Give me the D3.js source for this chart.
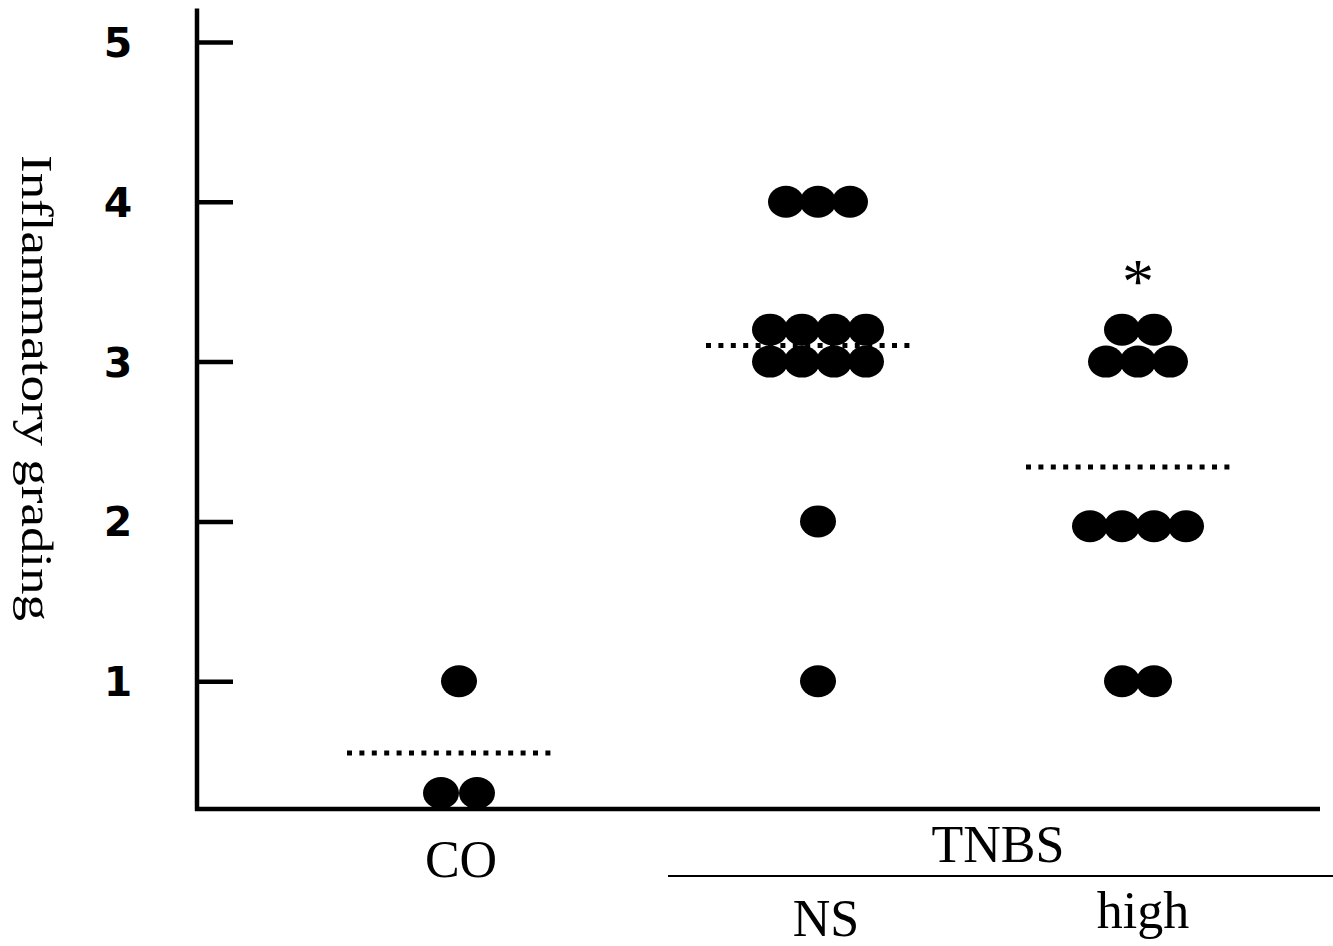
<!DOCTYPE html>
<html>
<head>
<meta charset="utf-8">
<script src="https://cdn.jsdelivr.net/npm/d3@7"></script>
<style>
  body { margin: 0; background: #fff; }
  svg { display: block; }
</style>
</head>
<body>
<svg width="1333" height="946"><g id="vis"></g></svg>
<script>
// data
const groups = ['CO', 'NS', 'high']
const coValues = [1, 0.3, 0.3]
const nsValues = [4, 4, 4, 3.2, 3.2, 3.2, 3.2, 3, 3, 3, 3, 2, 1]
const highValues = [3.2, 3.2, 3, 3, 3, 1.97, 1.97, 1.97, 1.97, 1, 1]
const meanValues = [0.55, 3.1, 2.34]
const yTicks = [1, 2, 3, 4, 5]

const svg = d3.select('svg')
const vis = svg.select('#vis')

const yScale = d3.scaleLinear()
  .domain([0, 5])
  .range([841, 42])

// group centres (uneven in the original)
const xScale = d3.scaleOrdinal()
  .domain(groups)
  .range([459, 818, 1138])

const dotStep = 32
const dotW = 18
const dotH = 16

// lay dots side by side when they share a value
function layout (group, values, step) {
  const byValue = d3.group(values, d => d)
  const out = []
  byValue.forEach((vals, v) => {
    vals.forEach((d, i) => {
      out.push({ group: group, value: v, x: xScale(group) + (i - (vals.length - 1) / 2) * step })
    })
  })
  return out
}

const dots = [].concat(
  layout('CO', coValues, 36),
  layout('NS', nsValues, dotStep),
  layout('high', highValues, dotStep)
)

// axes
const yAxis = vis.append('g')
  .attr('transform', 'translate(197,0)')
  .call(d3.axisRight(yScale).tickValues(yTicks).tickSize(36).tickFormat(''))
yAxis.select('.domain').remove()
yAxis.selectAll('.tick line')
  .attr('stroke', '#000')
  .attr('stroke-width', 4.5)

vis.append('line')
  .attr('x1', 197).attr('x2', 197)
  .attr('y1', yScale(5.21)).attr('y2', yScale(0.19))
  .attr('stroke', '#000')
  .attr('stroke-width', 4.5)

vis.append('line')
  .attr('x1', 195).attr('x2', 1320)
  .attr('y1', yScale(0.2)).attr('y2', yScale(0.2))
  .attr('stroke', '#000')
  .attr('stroke-width', 4.5)

vis.selectAll('.ytick-label')
  .data(yTicks)
  .enter().append('text')
  .attr('class', 'ytick-label')
  .attr('x', 118)
  .attr('y', d => yScale(d) + 15)
  .style('text-anchor', 'middle')
  .style('font-family', 'DejaVu Sans')
  .style('font-weight', 'bold')
  .style('font-size', '41px')
  .text(d => d)

// y title
vis.append('text')
  .attr('transform', 'translate(22,155) rotate(90)')
  .attr('textLength', 466)
  .attr('lengthAdjust', 'spacingAndGlyphs')
  .style('font-family', 'Liberation Serif')
  .style('font-size', '44px')
  .text('Inflammatory grading')

// dots
vis.selectAll('.dot')
  .data(dots)
  .enter().append('ellipse')
  .attr('class', 'dot')
  .attr('cx', d => d.x)
  .attr('cy', d => yScale(d.value))
  .attr('rx', dotW)
  .attr('ry', dotH)
  .style('fill', '#000')

// mean lines
vis.selectAll('.mean')
  .data(groups)
  .enter().append('line')
  .attr('class', 'mean')
  .attr('x1', d => xScale(d) - 112)
  .attr('x2', d => xScale(d) + 92)
  .attr('y1', (d, i) => yScale(meanValues[i]))
  .attr('y2', (d, i) => yScale(meanValues[i]))
  .attr('stroke', '#000')
  .attr('stroke-width', 5)
  .attr('stroke-dasharray', '5 7.4')

// significance mark
vis.append('text')
  .attr('x', xScale('high'))
  .attr('y', yScale(3.2) - 27)
  .style('text-anchor', 'middle')
  .style('font-family', 'Liberation Serif')
  .style('font-size', '64px')
  .text('*')

// category labels
const labelFont = function (sel) {
  sel.style('font-family', 'Liberation Serif')
    .style('font-size', '52px')
    .style('text-anchor', 'middle')
}

vis.append('text').attr('x', 461).attr('y', 877).call(labelFont).text('CO')
vis.append('text').attr('x', 998).attr('y', 862).call(labelFont).text('TNBS')
vis.append('line')
  .attr('x1', 668).attr('x2', 1333)
  .attr('y1', 876).attr('y2', 876)
  .attr('stroke', '#000')
  .attr('stroke-width', 2)
vis.append('text').attr('x', 826).attr('y', 936).call(labelFont).text('NS')
vis.append('text').attr('x', 1143).attr('y', 928).call(labelFont).text('high')
</script>
</body>
</html>
